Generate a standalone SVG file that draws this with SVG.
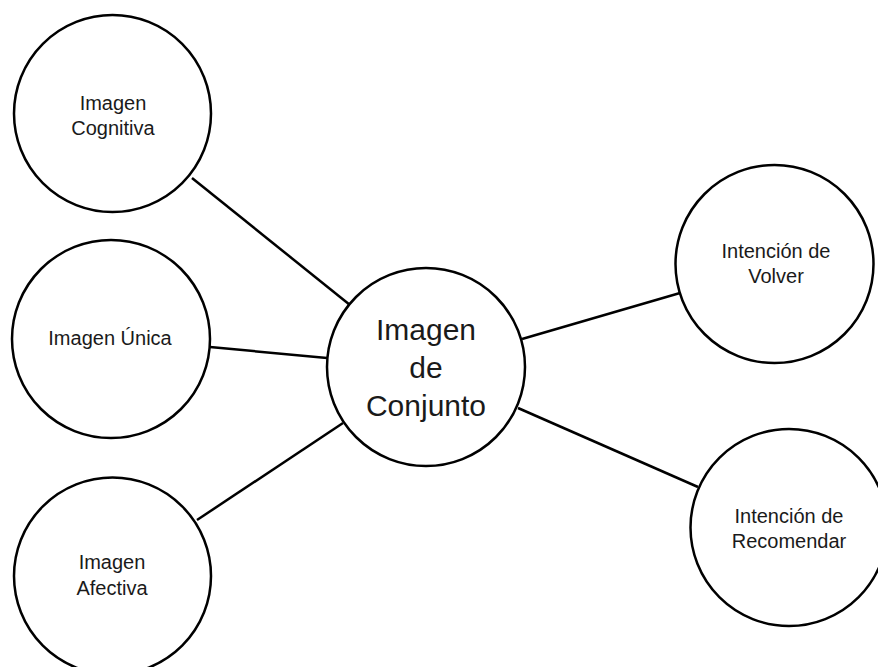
<svg xmlns="http://www.w3.org/2000/svg" width="878" height="667" viewBox="0 0 878 667">
<style>
.n{fill:#fff;stroke:#000;stroke-width:2.5}
.c{stroke:#000;stroke-width:2.5;fill:none}
text{font-family:"Liberation Sans",Arial,sans-serif;fill:#1a1a1a;text-anchor:middle}
.s{font-size:20px}
.l{font-size:30px}
</style>
<rect width="878" height="667" fill="#fff"/>
<g id="connectors">
<line class="c" x1="192" y1="178" x2="350" y2="305"/>
<line class="c" x1="210" y1="347" x2="327" y2="358"/>
<line class="c" x1="197" y1="520" x2="343" y2="423"/>
<line class="c" x1="522" y1="339" x2="680" y2="293"/>
<line class="c" x1="518" y1="408" x2="698" y2="487"/>
</g>
<g id="cognitiva">
<circle class="n" cx="112.5" cy="113.5" r="98.5"/>
<text class="s" x="113" y="110">Imagen</text>
<text class="s" x="113" y="135">Cognitiva</text>
</g>
<g id="unica">
<circle class="n" cx="111" cy="339" r="99"/>
<text class="s" x="110" y="345">Imagen Única</text>
</g>
<g id="afectiva">
<circle class="n" cx="112.5" cy="576" r="98.5"/>
<text class="s" x="112" y="569">Imagen</text>
<text class="s" x="112" y="595">Afectiva</text>
</g>
<g id="conjunto">
<circle class="n" cx="426" cy="367" r="99"/>
<text class="l" x="426" y="340">Imagen</text>
<text class="l" x="426" y="378">de</text>
<text class="l" x="426" y="416">Conjunto</text>
</g>
<g id="volver">
<circle class="n" cx="774.5" cy="264" r="99"/>
<text class="s" x="776" y="258">Intención de</text>
<text class="s" x="776" y="283">Volver</text>
</g>
<g id="recomendar">
<circle class="n" cx="789" cy="527.5" r="98.5"/>
<text class="s" x="789" y="523">Intención de</text>
<text class="s" x="789" y="548">Recomendar</text>
</g>
</svg>
